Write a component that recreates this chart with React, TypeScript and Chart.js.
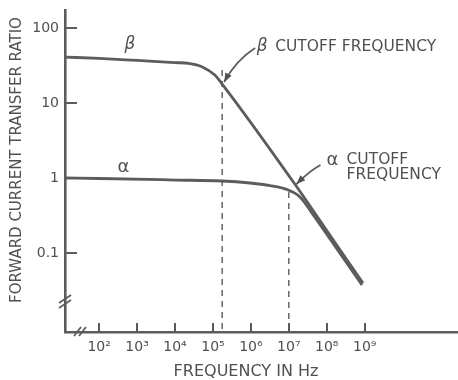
import React, { useEffect, useRef } from "react";
import { Chart, registerables } from "chart.js";

Chart.register(...registerables);

// ---- data ----
const betaFreq = [12.6, 1e2, 1e3, 1e4, 2.3e4, 5.1e4, 1.12e5, 1.75e5, 1.5e7, 9.0e7, 9.0e8];
const betaGain = [41, 39.3, 36.9, 34.6, 33.8, 30.5, 23.6, 17.9, 0.806, 0.215, 0.0398];
const alphaFreq = [12.6, 1e2, 1.06e4, 1.73e5, 9.5e5, 3.19e6, 8.96e6, 1.97e7, 4.08e7, 9.0e7, 8.5e8];
const alphaGain = [1.0, 0.985, 0.94, 0.912, 0.858, 0.794, 0.703, 0.558, 0.341, 0.193, 0.0374];

const xTickValues = [1e2, 1e3, 1e4, 1e5, 1e6, 1e7, 1e8, 1e9];
const xTickLabels = ["10²", "10³", "10⁴", "10⁵", "10⁶", "10⁷", "10⁸", "10⁹"];
const yTickValues = [0.1, 1, 10, 100];
const yTickLabels = ["0.1", "1", "10", "100"];

const betaCutoff = { f: 1.75e5, gain: 17.9 };
const alphaCutoff = { f: 1e7, gain: 0.69 };
const alphaArrowTip = { f: 1.5e7, gain: 0.806 };

const xTitle = "FREQUENCY IN Hz";
const yTitle = "FORWARD CURRENT TRANSFER RATIO";

const INK = "#5c5c5c";
const TEXT = "#505050";
const FONT = '"DejaVu Sans", sans-serif';

function arrow(ctx: CanvasRenderingContext2D, sx: number, sy: number, cx: number, cy: number, tx: number, ty: number) {
  ctx.beginPath();
  ctx.moveTo(sx, sy);
  ctx.quadraticCurveTo(cx, cy, tx, ty);
  ctx.stroke();
  const ang = Math.atan2(ty - cy, tx - cx);
  const L = 9, W = 3.5;
  ctx.beginPath();
  ctx.moveTo(tx, ty);
  ctx.lineTo(tx - L * Math.cos(ang) + W * Math.sin(ang), ty - L * Math.sin(ang) - W * Math.cos(ang));
  ctx.lineTo(tx - L * Math.cos(ang) - W * Math.sin(ang), ty - L * Math.sin(ang) + W * Math.cos(ang));
  ctx.closePath();
  ctx.fill();
}

const decor = {
  id: "decor",
  afterDatasetsDraw(chart: any) {
    const { ctx, chartArea: ca, scales } = chart;
    const xs = scales.x, ys = scales.y;
    const X = (v: number) => xs.getPixelForValue(v);
    const Y = (v: number) => ys.getPixelForValue(v);
    ctx.save();
    ctx.strokeStyle = INK;
    ctx.fillStyle = TEXT;

    // inward tick marks
    ctx.lineWidth = 2;
    ctx.beginPath();
    yTickValues.forEach((v) => {
      const p = Math.round(Y(v));
      ctx.moveTo(ca.left, p);
      ctx.lineTo(ca.left + 12, p);
    });
    xTickValues.forEach((v) => {
      const p = Math.round(X(v));
      ctx.moveTo(p, ca.bottom);
      ctx.lineTo(p, ca.bottom - 9);
    });
    ctx.stroke();

    // dashed cutoff lines
    ctx.setLineDash([6, 5]);
    ctx.lineWidth = 1.4;
    ctx.beginPath();
    const bx = X(betaCutoff.f);
    ctx.moveTo(bx, Y(betaCutoff.gain) - 14);
    ctx.lineTo(bx, ca.bottom);
    const ax = X(alphaCutoff.f);
    ctx.moveTo(ax, Y(alphaCutoff.gain) + 2);
    ctx.lineTo(ax, ca.bottom);
    ctx.stroke();
    ctx.setLineDash([]);

    // axis breaks
    ctx.lineWidth = 1.8;
    ctx.beginPath();
    const byk = ca.bottom - 33;
    ctx.moveTo(ca.left - 6, byk + 4); ctx.lineTo(ca.left + 6, byk - 4);
    ctx.moveTo(ca.left - 6, byk + 9); ctx.lineTo(ca.left + 6, byk + 1);
    const bxk = ca.left + 9;
    ctx.moveTo(bxk, ca.bottom + 4); ctx.lineTo(bxk + 7, ca.bottom - 5);
    ctx.moveTo(bxk + 5, ca.bottom + 4); ctx.lineTo(bxk + 12, ca.bottom - 5);
    ctx.stroke();

    // arrows
    ctx.lineWidth = 1.8;
    const btx = X(betaCutoff.f) + 2, bty = Y(betaCutoff.gain) - 2;
    arrow(ctx, btx + 31, bty - 34, btx + 12, bty - 22, btx, bty);
    const atx = X(alphaArrowTip.f) + 1, aty = Y(alphaArrowTip.gain) - 1;
    arrow(ctx, atx + 24, aty - 19, atx + 13, aty - 13, atx, aty);

    // texts
    ctx.textBaseline = "middle";
    ctx.textAlign = "center";
    ctx.font = `italic 17px ${FONT}`;
    ctx.fillText("β", 130, 45);
    ctx.fillText("β", btx + 38, bty - 35);
    ctx.font = `18px ${FONT}`;
    ctx.fillText("α", 123.5, 167);
    ctx.fillText("α", atx + 36, aty - 24);

    ctx.textAlign = "left";
    ctx.font = `15.5px ${FONT}`;
    ctx.fillText("CUTOFF FREQUENCY", btx + 51, bty - 35);
    ctx.fillText("CUTOFF", atx + 50, aty - 24);
    ctx.fillText("FREQUENCY", atx + 50, aty - 9);

    // axis titles
    ctx.textAlign = "center";
    ctx.font = `16px ${FONT}`;
    ctx.fillText(xTitle, 246, 372);
    ctx.save();
    ctx.translate(17, 160);
    ctx.rotate(-Math.PI / 2);
    ctx.font = `15px ${FONT}`;
    ctx.fillText(yTitle, 0, 0);
    ctx.restore();

    ctx.restore();
  },
};

export default function App() {
  const ref = useRef<HTMLCanvasElement | null>(null);
  useEffect(() => {
    if (!ref.current) return;
    Chart.defaults.font.family = FONT;
    const chart = new Chart(ref.current, {
      type: "line",
      data: {
        datasets: [
          {
            label: "β",
            data: betaFreq.map((f, i) => ({ x: f, y: betaGain[i] })),
            borderColor: INK,
            borderWidth: 2.8,
            pointRadius: 0,
            cubicInterpolationMode: "monotone",
            fill: false,
          },
          {
            label: "α",
            data: alphaFreq.map((f, i) => ({ x: f, y: alphaGain[i] })),
            borderColor: INK,
            borderWidth: 2.8,
            pointRadius: 0,
            cubicInterpolationMode: "monotone",
            fill: false,
          },
        ],
      },
      options: {
        animation: false,
        responsive: false,
        devicePixelRatio: 1,
        layout: { padding: { top: 10, left: 0, right: 0, bottom: 0 } },
        plugins: { legend: { display: false }, tooltip: { enabled: false } },
        scales: {
          x: {
            type: "logarithmic",
            bounds: "data",
            min: Math.pow(10, 1.1),
            max: Math.pow(10, 11.46),
            grid: { display: false, drawTicks: false },
            border: { display: true, color: INK, width: 2.6 },
            afterBuildTicks: (s: any) => {
              s.ticks = xTickValues.map((v) => ({ value: v }));
            },
            afterFit: (s: any) => {
              s.height = 48;
              s.paddingLeft = 0;
              s.paddingRight = 0;
            },
            ticks: {
              autoSkip: false,
              maxRotation: 0,
              padding: 7,
              color: TEXT,
              font: { size: 14, family: FONT },
              callback: (v: any) => {
                const i = xTickValues.indexOf(Number(v));
                return i >= 0 ? xTickLabels[i] : "";
              },
            },
          },
          y: {
            type: "logarithmic",
            bounds: "data",
            min: Math.pow(10, -2.053),
            max: Math.pow(10, 2.24),
            grid: { display: false, drawTicks: false },
            border: { display: true, color: INK, width: 2.6 },
            afterBuildTicks: (s: any) => {
              s.ticks = yTickValues.map((v) => ({ value: v }));
            },
            afterFit: (s: any) => {
              s.width = 65;
              s.paddingTop = 0;
              s.paddingBottom = 0;
            },
            ticks: {
              autoSkip: false,
              padding: 6,
              color: TEXT,
              font: { size: 14, family: FONT },
              callback: (v: any) => {
                const i = yTickValues.indexOf(Number(v));
                return i >= 0 ? yTickLabels[i] : "";
              },
            },
          },
        },
      },
      plugins: [decor],
    } as any);
    return () => chart.destroy();
  }, []);
  return (
    <div style={{ position: "fixed", left: 0, top: 0, width: 458, height: 380, background: "#fff" }}>
      <canvas ref={ref} width={458} height={380} style={{ display: "block" }} />
    </div>
  );
}
